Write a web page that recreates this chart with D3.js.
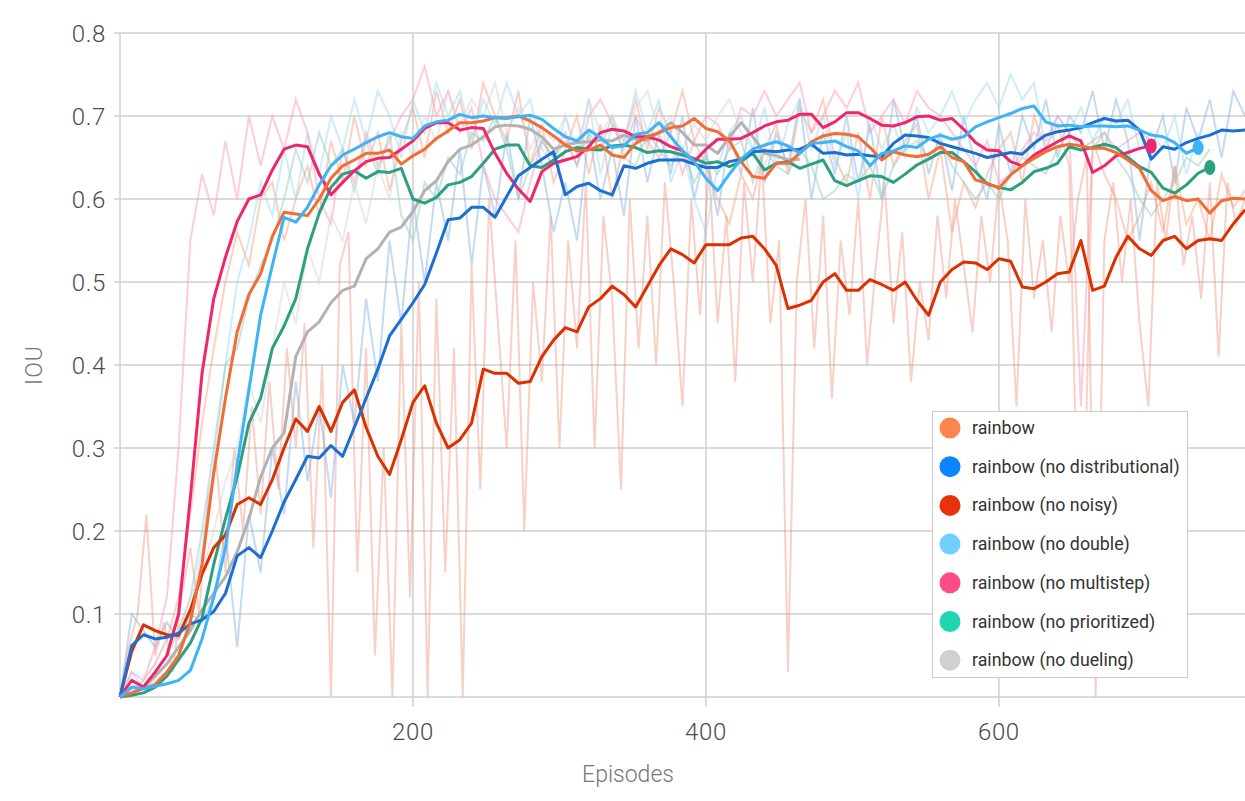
<!DOCTYPE html>
<html>
<head>
<meta charset="utf-8">
<script src="https://cdn.jsdelivr.net/npm/d3@7"></script>
<style>
  html, body { margin: 0; padding: 0; background: #fff; }
  svg { display: block; font-family: Roboto, "Open Sans", sans-serif; }
</style>
</head>
<body>
<svg id="chart" width="1245" height="801"></svg>
<script>

// episode spacing of the stored points
var step = 8;
var rawNoisyStep = 6;

var seriesNames = [ "rainbow", "rainbow (no distributional)", "rainbow (no noisy)", "rainbow (no double)",
		"rainbow (no multistep)", "rainbow (no prioritized)", "rainbow (no dueling)" ];
var legendColors = [ "#ff8550", "#0a84ff", "#e8320a", "#6fd0ff", "#ff4c88", "#1dd6b0", "#d0d0d0" ];
var lineColors = [ "#f26d35", "#1b6fd0", "#dc3000", "#3cb4f5", "#f0266b", "#2c9e82", "#b2b2b2" ];
var rawColors = [ "#f7a684", "#8ab6e6", "#ec8f7a", "#9fd9fa", "#fb9cbc", "#93cdbd", "#d6d6d6" ];

var yTicks = [ 0.1, 0.2, 0.3, 0.4, 0.5, 0.6, 0.7, 0.8 ];
var xTicks = [ 200, 400, 600 ];

// smoothed curves, one value every 8 episodes
var rainbow = [ 0, 0.005, 0.01, 0.015, 0.03, 0.05, 0.09, 0.16, 0.27, 0.36, 0.44, 0.485, 0.51,
		0.555, 0.584, 0.582, 0.58, 0.6, 0.625, 0.64, 0.647, 0.655, 0.655, 0.659, 0.642,
		0.652, 0.66, 0.673, 0.682, 0.692, 0.692, 0.694, 0.698, 0.698, 0.7, 0.694, 0.686, 0.676,
		0.665, 0.658, 0.659, 0.665, 0.653, 0.65, 0.667, 0.675, 0.68, 0.686, 0.688, 0.697, 0.685,
		0.681, 0.67, 0.645, 0.627, 0.625, 0.643, 0.643, 0.655, 0.669, 0.676, 0.679, 0.678,
		0.675, 0.662, 0.647, 0.657, 0.653, 0.651, 0.654, 0.663, 0.65, 0.645, 0.623, 0.619, 0.613,
		0.629, 0.64, 0.649, 0.657, 0.663, 0.666, 0.664, 0.661, 0.661, 0.656, 0.647, 0.637,
		0.61, 0.598, 0.603, 0.598, 0.6, 0.583, 0.598, 0.601, 0.6 ];
var noDistributional = [ 0, 0.062, 0.075, 0.07, 0.072, 0.077, 0.088, 0.093, 0.103, 0.125, 0.17, 0.18, 0.168,
		0.2, 0.235, 0.262, 0.29, 0.288, 0.303, 0.29, 0.325, 0.36, 0.395, 0.435, 0.455,
		0.475, 0.497, 0.535, 0.575, 0.577, 0.59, 0.59, 0.578, 0.603, 0.628, 0.638, 0.648, 0.657,
		0.605, 0.615, 0.619, 0.61, 0.605, 0.64, 0.637, 0.643, 0.647, 0.647, 0.647, 0.642, 0.638,
		0.638, 0.645, 0.648, 0.657, 0.658, 0.657, 0.659, 0.66, 0.666, 0.655, 0.656, 0.653,
		0.654, 0.652, 0.651, 0.667, 0.677, 0.676, 0.674, 0.667, 0.663, 0.659, 0.655, 0.65, 0.653,
		0.656, 0.654, 0.667, 0.677, 0.681, 0.683, 0.686, 0.692, 0.697, 0.694, 0.695, 0.683,
		0.648, 0.663, 0.66, 0.668, 0.673, 0.677, 0.683, 0.682, 0.683 ];
var noNoisy = [ 0, 0.055, 0.087, 0.08, 0.075, 0.074, 0.105, 0.148, 0.18, 0.195, 0.232, 0.24, 0.232,
		0.262, 0.3, 0.335, 0.32, 0.35, 0.32, 0.355, 0.37, 0.325, 0.29, 0.268, 0.31,
		0.355, 0.375, 0.33, 0.3, 0.31, 0.33, 0.395, 0.39, 0.39, 0.378, 0.38, 0.41, 0.43,
		0.445, 0.44, 0.47, 0.48, 0.495, 0.485, 0.47, 0.495, 0.52, 0.54, 0.533, 0.523, 0.545,
		0.545, 0.545, 0.553, 0.555, 0.54, 0.52, 0.468, 0.472, 0.478, 0.5, 0.51, 0.49,
		0.49, 0.503, 0.497, 0.49, 0.5, 0.478, 0.46, 0.5, 0.515, 0.524, 0.523, 0.515, 0.528,
		0.525, 0.494, 0.492, 0.5, 0.51, 0.512, 0.55, 0.49, 0.495, 0.53, 0.555, 0.54,
		0.532, 0.55, 0.555, 0.54, 0.55, 0.552, 0.55, 0.57, 0.587 ];
var noDouble = [ 0, 0.012, 0.01, 0.013, 0.016, 0.02, 0.032, 0.07, 0.12, 0.18, 0.28, 0.37, 0.46,
		0.52, 0.578, 0.572, 0.59, 0.617, 0.64, 0.653, 0.66, 0.668, 0.675, 0.68, 0.675,
		0.673, 0.688, 0.693, 0.695, 0.702, 0.698, 0.7, 0.698, 0.697, 0.699, 0.701, 0.696, 0.685,
		0.675, 0.67, 0.683, 0.674, 0.662, 0.664, 0.678, 0.68, 0.692, 0.675, 0.658, 0.645, 0.625,
		0.61, 0.63, 0.648, 0.66, 0.665, 0.669, 0.664, 0.655, 0.667, 0.668, 0.67, 0.663,
		0.658, 0.64, 0.655, 0.658, 0.664, 0.662, 0.672, 0.677, 0.672, 0.675, 0.687, 0.693, 0.698,
		0.703, 0.709, 0.712, 0.693, 0.688, 0.689, 0.687, 0.688, 0.688, 0.687, 0.688, 0.683,
		0.677, 0.675, 0.668, 0.655, 0.662 ];
var noMultistep = [ 0, 0.02, 0.012, 0.03, 0.05, 0.1, 0.24, 0.39, 0.48, 0.53, 0.573, 0.6, 0.605,
		0.635, 0.66, 0.665, 0.663, 0.63, 0.605, 0.62, 0.634, 0.645, 0.649, 0.65, 0.66,
		0.67, 0.685, 0.692, 0.692, 0.683, 0.686, 0.685, 0.655, 0.631, 0.612, 0.597, 0.633, 0.643,
		0.647, 0.651, 0.663, 0.68, 0.684, 0.682, 0.675, 0.675, 0.671, 0.663, 0.658, 0.645, 0.66,
		0.672, 0.672, 0.673, 0.68, 0.688, 0.693, 0.695, 0.702, 0.702, 0.686, 0.693, 0.704,
		0.704, 0.697, 0.689, 0.688, 0.692, 0.699, 0.7, 0.695, 0.697, 0.684, 0.668, 0.659, 0.658,
		0.645, 0.64, 0.653, 0.661, 0.669, 0.676, 0.67, 0.632, 0.64, 0.652, 0.656, 0.661,
		0.664 ];
var noPrioritized = [ 0, 0.002, 0.005, 0.012, 0.025, 0.045, 0.065, 0.095, 0.16, 0.215, 0.265, 0.33, 0.36,
		0.42, 0.447, 0.48, 0.54, 0.583, 0.614, 0.63, 0.634, 0.625, 0.633, 0.632, 0.637,
		0.6, 0.595, 0.602, 0.617, 0.62, 0.627, 0.643, 0.66, 0.665, 0.665, 0.64, 0.638, 0.647,
		0.657, 0.662, 0.66, 0.659, 0.664, 0.665, 0.662, 0.656, 0.658, 0.657, 0.653, 0.649, 0.643,
		0.645, 0.639, 0.645, 0.655, 0.635, 0.643, 0.645, 0.637, 0.642, 0.647, 0.622, 0.616,
		0.622, 0.628, 0.627, 0.62, 0.63, 0.641, 0.648, 0.656, 0.656, 0.645, 0.633, 0.618, 0.614,
		0.611, 0.62, 0.633, 0.637, 0.643, 0.663, 0.659, 0.662, 0.666, 0.662, 0.65, 0.639,
		0.632, 0.613, 0.607, 0.617, 0.631, 0.638 ];
var noDueling = [ 0, 0.005, 0.012, 0.025, 0.04, 0.06, 0.08, 0.105, 0.125, 0.145, 0.175, 0.215, 0.265,
		0.3, 0.318, 0.41, 0.44, 0.452, 0.475, 0.49, 0.495, 0.528, 0.54, 0.56, 0.566,
		0.585, 0.61, 0.622, 0.645, 0.66, 0.665, 0.675, 0.687, 0.689, 0.688, 0.684, 0.675, 0.66,
		0.665, 0.668, 0.669, 0.671, 0.67, 0.677, 0.672, 0.671, 0.68, 0.692, 0.68, 0.665, 0.665,
		0.655, 0.675, 0.692, 0.675, 0.655, 0.652, 0.647, 0.648 ];

// raw (unsmoothed) runs, drawn faded behind
var rainbowRaw = [ 0, 0.01, 0.02, 0.04, 0.07, 0.12, 0.22, 0.33, 0.42, 0.5, 0.56, 0.52, 0.6,
		0.62, 0.55, 0.6, 0.64, 0.58, 0.67, 0.62, 0.7, 0.64, 0.68, 0.61, 0.67,
		0.71, 0.65, 0.73, 0.68, 0.72, 0.66, 0.74, 0.7, 0.67, 0.73, 0.64, 0.69, 0.62,
		0.66, 0.7, 0.63, 0.69, 0.6, 0.67, 0.72, 0.66, 0.71, 0.68, 0.73, 0.67, 0.64,
		0.6, 0.57, 0.63, 0.6, 0.66, 0.69, 0.63, 0.71, 0.68, 0.72, 0.65, 0.62,
		0.68, 0.6, 0.7, 0.64, 0.67, 0.69, 0.6, 0.66, 0.56, 0.62, 0.59, 0.63, 0.66,
		0.68, 0.62, 0.7, 0.66, 0.69, 0.64, 0.05, 0.67, 0.63, 0.6, 0.55, 0.58,
		0.62, 0.56, 0.64, 0.57, 0.6, 0.55, 0.63, 0.59, 0.61 ];
var noDistributionalRaw = [ 0, 0.1, 0.08, 0.06, 0.09, 0.07, 0.1, 0.09, 0.12, 0.2, 0.06, 0.22, 0.15,
		0.3, 0.22, 0.38, 0.26, 0.35, 0.24, 0.4, 0.33, 0.48, 0.38, 0.55, 0.45,
		0.6, 0.5, 0.62, 0.55, 0.66, 0.52, 0.64, 0.58, 0.68, 0.6, 0.7, 0.64, 0.56,
		0.62, 0.55, 0.68, 0.6, 0.66, 0.58, 0.7, 0.62, 0.68, 0.63, 0.7, 0.6, 0.66,
		0.58, 0.68, 0.63, 0.71, 0.62, 0.68, 0.64, 0.72, 0.6, 0.68, 0.63, 0.7,
		0.62, 0.69, 0.6, 0.72, 0.66, 0.7, 0.63, 0.68, 0.61, 0.7, 0.64, 0.6, 0.69,
		0.63, 0.7, 0.66, 0.72, 0.65, 0.7, 0.68, 0.73, 0.66, 0.72, 0.67, 0.55,
		0.66, 0.7, 0.62, 0.71, 0.67, 0.72, 0.65, 0.73, 0.7 ];
var noNoisyRaw = [ 0, 0.06, 0.1, 0.22, 0.05, 0.09, 0.03, 0.12, 0.18, 0.1, 0.24, 0.28, 0.15, 0.3, 0.2, 0.35,
		0.22, 0.38, 0.25, 0.42, 0.3, 0.45, 0.18, 0.4, 0.0, 0.52, 0.56, 0.15, 0.42, 0.05, 0.3, 0.0,
		0.45, 0.12, 0.5, 0.0, 0.48, 0.15, 0.42, 0.0, 0.52, 0.25, 0.6, 0.45, 0.3, 0.55, 0.2, 0.5,
		0.38, 0.58, 0.3, 0.55, 0.42, 0.62, 0.3, 0.58, 0.48, 0.25, 0.6, 0.42, 0.58, 0.4, 0.62, 0.5,
		0.35, 0.6, 0.46, 0.64, 0.45, 0.58, 0.38, 0.62, 0.5, 0.65, 0.45, 0.55, 0.03, 0.5, 0.6, 0.42,
		0.58, 0.36, 0.55, 0.46, 0.6, 0.4, 0.52, 0.62, 0.45, 0.56, 0.38, 0.5, 0.43, 0.58, 0.48, 0.6,
		0.52, 0.44, 0.58, 0.5, 0.62, 0.55, 0.35, 0.6, 0.48, 0.55, 0.44, 0.58, 0.5, 0.6, 0.65, 0.0,
		0.55, 0.62, 0.5, 0.6, 0.45, 0.35, 0.62, 0.55, 0.64, 0.52, 0.58, 0.48, 0.62, 0.41, 0.62, 0.57,
		0.6 ];
var noDoubleRaw = [ 0, 0.03, 0.01, 0.02, 0.03, 0.05, 0.1, 0.18, 0.28, 0.4, 0.5, 0.55, 0.62,
		0.58, 0.66, 0.6, 0.68, 0.63, 0.7, 0.66, 0.72, 0.67, 0.73, 0.7, 0.65,
		0.72, 0.68, 0.74, 0.7, 0.73, 0.67, 0.72, 0.69, 0.74, 0.7, 0.72, 0.66, 0.64,
		0.7, 0.65, 0.72, 0.63, 0.69, 0.67, 0.73, 0.68, 0.72, 0.62, 0.66, 0.6, 0.56,
		0.64, 0.68, 0.7, 0.66, 0.71, 0.64, 0.69, 0.72, 0.66, 0.7, 0.64, 0.68,
		0.6, 0.7, 0.66, 0.69, 0.65, 0.71, 0.68, 0.7, 0.73, 0.69, 0.72, 0.74, 0.71,
		0.75, 0.72, 0.74, 0.66, 0.7, 0.68, 0.71, 0.67, 0.7, 0.69, 0.72, 0.66,
		0.68, 0.66, 0.7, 0.63, 0.68 ];
var noMultistepRaw = [ 0, 0.03, 0.02, 0.06, 0.12, 0.3, 0.55, 0.63, 0.58, 0.67, 0.6, 0.7, 0.64,
		0.7, 0.66, 0.72, 0.68, 0.6, 0.57, 0.66, 0.62, 0.68, 0.64, 0.67, 0.7,
		0.72, 0.76, 0.7, 0.73, 0.68, 0.71, 0.64, 0.6, 0.58, 0.56, 0.62, 0.67, 0.65,
		0.68, 0.64, 0.7, 0.72, 0.69, 0.66, 0.7, 0.67, 0.65, 0.68, 0.63, 0.67, 0.7,
		0.69, 0.66, 0.71, 0.7, 0.73, 0.7, 0.72, 0.74, 0.68, 0.7, 0.73, 0.71,
		0.74, 0.68, 0.7, 0.72, 0.69, 0.73, 0.71, 0.7, 0.68, 0.66, 0.64, 0.67, 0.62,
		0.63, 0.66, 0.68, 0.67, 0.7, 0.68, 0.35, 0.66, 0.68, 0.66, 0.67, 0.68,
		0.67 ];
var noPrioritizedRaw = [ 0, 0.01, 0.01, 0.03, 0.05, 0.08, 0.12, 0.2, 0.3, 0.4, 0.42, 0.48, 0.52,
		0.55, 0.6, 0.66, 0.62, 0.68, 0.64, 0.66, 0.61, 0.67, 0.63, 0.68, 0.58,
		0.55, 0.62, 0.6, 0.65, 0.63, 0.68, 0.67, 0.7, 0.66, 0.6, 0.64, 0.67, 0.65,
		0.67, 0.64, 0.68, 0.66, 0.7, 0.65, 0.64, 0.68, 0.66, 0.64, 0.66, 0.62, 0.65,
		0.63, 0.66, 0.67, 0.62, 0.66, 0.64, 0.63, 0.66, 0.64, 0.6, 0.61, 0.63,
		0.62, 0.64, 0.6, 0.64, 0.66, 0.67, 0.65, 0.67, 0.64, 0.62, 0.6, 0.62, 0.6,
		0.63, 0.65, 0.64, 0.63, 0.66, 0.68, 0.66, 0.67, 0.68, 0.65, 0.63, 0.6,
		0.58, 0.6, 0.62, 0.65, 0.64, 0.66 ];
var noDuelingRaw = [ 0, 0.01, 0.02, 0.04, 0.07, 0.08, 0.12, 0.15, 0.2, 0.26, 0.3, 0.38, 0.33,
		0.42, 0.5, 0.45, 0.54, 0.5, 0.58, 0.55, 0.62, 0.57, 0.64, 0.6, 0.68,
		0.65, 0.7, 0.67, 0.73, 0.69, 0.72, 0.7, 0.74, 0.68, 0.71, 0.66, 0.69, 0.67,
		0.7, 0.66, 0.72, 0.68, 0.7, 0.67, 0.71, 0.73, 0.68, 0.7, 0.66, 0.69, 0.67,
		0.7, 0.72, 0.68, 0.66, 0.64, 0.68, 0.66, 0.65 ];

var smoothed = [ rainbow, noDistributional, noNoisy, noDouble, noMultistep, noPrioritized, noDueling ];
var raw = [ rainbowRaw, noDistributionalRaw, noNoisyRaw, noDoubleRaw, noMultistepRaw, noPrioritizedRaw, noDuelingRaw ];
var rawSteps = [ step, step, rawNoisyStep, step, step, step, step ];
// runs that stopped early get a dot at their last point
var endMarked = [ 3, 4, 5 ];

var svg = d3.select("#chart");
var plotLeft = 120, plotRight = 1245, plotTop = 33, plotBottom = 697;

var x = d3.scaleLinear().domain([ 0, 768 ]).range([ plotLeft, plotRight ]);
var y = d3.scaleLinear().domain([ 0, 0.8 ]).range([ plotBottom, plotTop ]);

// grid
var grid = svg.append("g");
grid.selectAll(".hgrid").data(yTicks).enter().append("line")//
.attr("x1", plotLeft - 6).attr("x2", plotRight)//
.attr("y1", function(d) { return y(d); }).attr("y2", function(d) { return y(d); })//
.attr("stroke", "#cfcfcf").attr("stroke-width", 1.5);
grid.selectAll(".vgrid").data(xTicks).enter().append("line")//
.attr("x1", function(d) { return x(d); }).attr("x2", function(d) { return x(d); })//
.attr("y1", plotTop).attr("y2", plotBottom + 10)//
.attr("stroke", "#cfcfcf").attr("stroke-width", 1.5);
grid.append("line").attr("x1", plotLeft).attr("x2", plotLeft).attr("y1", plotTop).attr("y2", plotBottom)//
.attr("stroke", "#cfcfcf").attr("stroke-width", 1.5);
grid.append("line").attr("x1", plotLeft).attr("x2", plotRight).attr("y1", plotBottom).attr("y2", plotBottom)//
.attr("stroke", "#cfcfcf").attr("stroke-width", 1.5);

// tick labels
svg.selectAll(".ylab").data(yTicks).enter().append("text")//
.attr("x", plotLeft - 14).attr("y", function(d) { return y(d) + 8.5; })//
.attr("text-anchor", "end").attr("font-size", 24).attr("font-weight", 300).attr("fill", "#4a4a55")//
.attr("letter-spacing", 0.6)//
.text(function(d) { return d3.format(".1f")(d); });
svg.selectAll(".xlab").data(xTicks).enter().append("text")//
.attr("x", function(d) { return x(d); }).attr("y", 740)//
.attr("text-anchor", "middle").attr("font-size", 24).attr("font-weight", 300).attr("fill", "#4a4a55")//
.attr("letter-spacing", 0.6)//
.text(function(d) { return d; });

svg.append("text").attr("transform", "translate(42,365) rotate(-90)")//
.attr("text-anchor", "middle").attr("font-size", 23).attr("font-weight", 300).attr("fill", "#77777f")//
.attr("letter-spacing", 1)//
.text("IOU");
svg.append("text").attr("x", 628).attr("y", 782)//
.attr("text-anchor", "middle").attr("font-size", 23).attr("font-weight", 300).attr("fill", "#77777f")//
.text("Episodes");

var plot = svg.append("g");

var makeLine = function(s) {
	return d3.line()//
	.x(function(d, i) { return x(i * s); })//
	.y(function(d) { return y(d); });
};

// faded raw runs
plot.selectAll(".raw").data(raw).enter().append("path")//
.attr("fill", "none")//
.attr("stroke", function(d, i) { return rawColors[i]; })//
.attr("stroke-opacity", function(d, i) { return i == 2 ? 0.42 : 0.5; })//
.attr("stroke-width", 2)//
.attr("d", function(d, i) { return makeLine(rawSteps[i])(d); });

// smoothed runs, lightest underneath
var drawOrder = [ 6, 5, 4, 2, 1, 0, 3 ];
plot.selectAll(".smooth").data(drawOrder).enter().append("path")//
.attr("fill", "none")//
.attr("stroke", function(k) { return lineColors[k]; })//
.attr("stroke-width", 3)//
.attr("stroke-linejoin", "round")//
.attr("d", function(k) { return makeLine(step)(smoothed[k]); });

plot.selectAll(".endDot").data(endMarked).enter().append("ellipse")//
.attr("cx", function(k) { return x((smoothed[k].length - 1) * step); })//
.attr("cy", function(k) { return y(smoothed[k][smoothed[k].length - 1]); })//
.attr("rx", 5.5).attr("ry", 7.5)//
.attr("fill", function(k) { return lineColors[k]; });

// legend
var legend = svg.append("g").attr("transform", "translate(932,411)");
legend.append("rect").attr("x", 0.5).attr("y", 0.5).attr("width", 255).attr("height", 266)//
.attr("fill", "#fff").attr("stroke", "#cccccc");
var items = legend.selectAll(".item").data(seriesNames).enter().append("g")//
.attr("transform", function(d, i) { return "translate(0," + (17 + i * 38.7) + ")"; });
items.append("circle").attr("cx", 18).attr("cy", 0).attr("r", 10.5)//
.attr("fill", function(d, i) { return legendColors[i]; });
items.append("text").attr("x", 40).attr("y", 6).attr("font-size", 17.8).attr("fill", "#333")//
.text(function(d) { return d; });

</script>
</body>
</html>
